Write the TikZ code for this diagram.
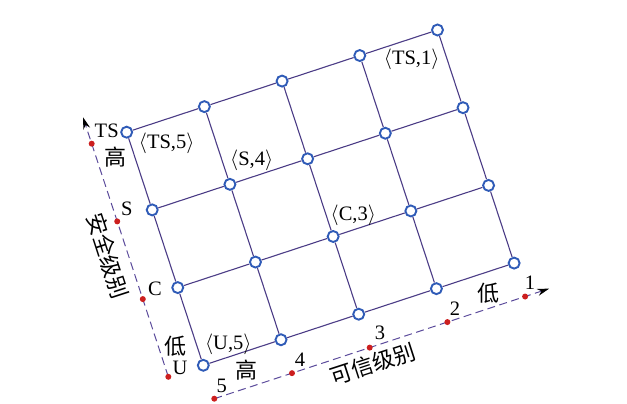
\documentclass[tikz,border=0pt]{standalone}
\usepackage{fontspec}
\setmainfont{Liberation Serif}
\newfontfamily\cjk{Noto Sans CJK SC}
\usetikzlibrary{arrows.meta,backgrounds}
\definecolor{ptblue}{HTML}{2F5BB7}
\definecolor{gridpurple}{HTML}{4B3C86}
\definecolor{axispurple}{HTML}{5B4B9B}
\definecolor{dotred}{HTML}{CC1F1F}

\begin{document}
\begin{tikzpicture}[x=1pt, y=1pt,
    pnode/.style={circle, draw=ptblue, line width=1.9pt, fill=white, minimum size=11pt, inner sep=0pt},
    reddot/.style={circle, fill=dotred, minimum size=6pt, inner sep=0pt},
    gridline/.style={draw=gridpurple, line width=1.1pt},
    axisline/.style={draw=axispurple, line width=1pt, dash pattern=on 8pt off 4.5pt, -{Stealth[length=12pt, width=7pt, black]}},
    lab/.style={font=\fontsize{20.5}{20.5}\selectfont, inner sep=1pt},
    cn/.style={font=\cjk\fontsize{22}{22}\selectfont, inner sep=1pt}
]
\useasboundingbox (0,0) rectangle (627,404);

\begin{scope}[shift={(203.3,38.7)}, rotate=18.2, x=81.8pt, y=81.8pt]
% Level pairs: column = trust level, row = security level
\node[pnode] (g00) at (0,0) {};
\node[pnode] (g10) at (1,0) {};
\node[pnode] (g20) at (2,0) {};
\node[pnode] (g30) at (3,0) {};
\node[pnode] (g40) at (4,0) {};
\node[pnode] (g01) at (0,1) {};
\node[pnode] (g11) at (1,1) {};
\node[pnode] (g21) at (2,1) {};
\node[pnode] (g31) at (3,1) {};
\node[pnode] (g41) at (4,1) {};
\node[pnode] (g02) at (0,2) {};
\node[pnode] (g12) at (1,2) {};
\node[pnode] (g22) at (2,2) {};
\node[pnode] (g32) at (3,2) {};
\node[pnode] (g42) at (4,2) {};
\node[pnode] (g03) at (0,3) {};
\node[pnode] (g13) at (1,3) {};
\node[pnode] (g23) at (2,3) {};
\node[pnode] (g33) at (3,3) {};
\node[pnode] (g43) at (4,3) {};

% Axis marks
\node[reddot] (vU) at (-0.45,0) {};
\node[reddot] (vC) at (-0.45,1) {};
\node[reddot] (vS) at (-0.45,2) {};
\node[reddot] (vTS) at (-0.45,3) {};
\node[reddot] (h5) at (0,-0.43) {};
\node[reddot] (h4) at (1,-0.43) {};
\node[reddot] (h3) at (2,-0.43) {};
\node[reddot] (h2) at (3,-0.43) {};
\node[reddot] (h1) at (4,-0.43) {};
\coordinate (vtip) at (-0.45,3.34);
\coordinate (htip) at (4.31,-0.43);
\end{scope}

% Grid lines
\draw[gridline] (g00) -- (g10) -- (g20) -- (g30) -- (g40);
\draw[gridline] (g01) -- (g11) -- (g21) -- (g31) -- (g41);
\draw[gridline] (g02) -- (g12) -- (g22) -- (g32) -- (g42);
\draw[gridline] (g03) -- (g13) -- (g23) -- (g33) -- (g43);
\draw[gridline] (g00) -- (g01) -- (g02) -- (g03);
\draw[gridline] (g10) -- (g11) -- (g12) -- (g13);
\draw[gridline] (g20) -- (g21) -- (g22) -- (g23);
\draw[gridline] (g30) -- (g31) -- (g32) -- (g33);
\draw[gridline] (g40) -- (g41) -- (g42) -- (g43);

% Axes
\begin{pgfonlayer}{background}
\draw[axisline] (vU.center) -- (vtip);
\draw[axisline] (h5.center) -- (htip);
\end{pgfonlayer}

% Pair labels
\node[lab] (lts5) at (166.7,260.7) {$\langle$TS,5$\rangle$};
\node[lab] (ls4) at (251.7,243.3) {$\langle$S,4$\rangle$};
\node[lab] (lc3) at (353.3,189) {$\langle$C,3$\rangle$};
\node[lab] (lts1) at (411.7,344.7) {$\langle$TS,1$\rangle$};
\node[lab] (lu5) at (228.3,60) {$\langle$U,5$\rangle$};

% Security axis labels
\node[lab] (tTS) at (106.7,273.3) {TS};
\node[lab] (tS) at (126.7,194.7) {S};
\node[lab] (tC) at (155,114.7) {C};
\node[lab] (tU) at (180,35.7) {U};
\node[cn] (shigh) at (115,247.3) {高};
\node[cn] (slow) at (175,58) {低};
\node[cn, rotate=-72] (sname) at (108,148) {安全级别};

% Trust axis labels
\node[lab] (t5) at (221.7,18) {5};
\node[lab] (t4) at (300,44) {4};
\node[lab] (t3) at (380,70.7) {3};
\node[lab] (t2) at (455,95.7) {2};
\node[lab] (t1) at (530,121.3) {1};
\node[cn] (thigh) at (246.7,34) {高};
\node[cn] (tlow) at (488,110.7) {低};
\node[cn, rotate=18] (tname) at (372.5,40) {可信级别};

\end{tikzpicture}
\end{document}
